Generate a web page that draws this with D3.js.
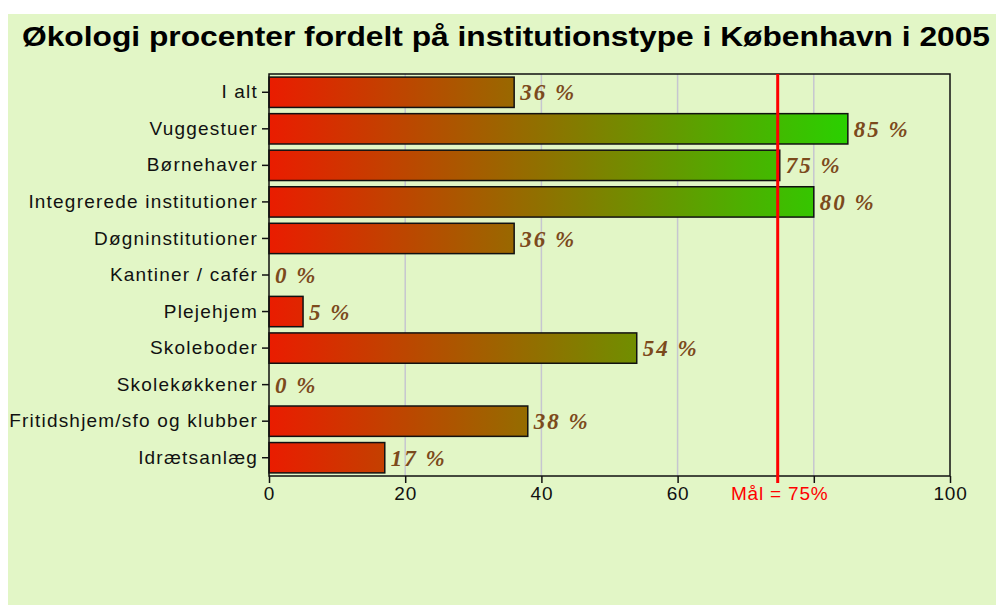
<!DOCTYPE html>
<html>
<head>
<meta charset="utf-8">
<script src="https://cdn.jsdelivr.net/npm/d3@7"></script>
<style>
  body { margin: 0; background: #fff; }
  svg { display: block; }
</style>
</head>
<body>
<svg id="chart" width="996" height="606"></svg>
<script>
const categories = [
  "I alt", "Vuggestuer", "Børnehaver", "Integrerede institutioner",
  "Døgninstitutioner", "Kantiner / cafér", "Plejehjem", "Skoleboder",
  "Skolekøkkener", "Fritidshjem/sfo og klubber", "Idrætsanlæg"
];
const values = [36, 85, 75, 80, 36, 0, 5, 54, 0, 38, 17];
const valueLabels = ["36 %", "85 %", "75 %", "80 %", "36 %", "0 %", "5 %", "54 %", "0 %", "38 %", "17 %"];
const xTicks = [0, 20, 40, 60, 80, 100];
const xTickLabels = ["0", "20", "40", "60", "", "100"];
const grid = [20, 40, 60, 80];
const goal = 74.7;
const goalLabel = "Mål = 75%";
const title = "Økologi procenter fordelt på institutionstype i København i 2005";

const svg = d3.select("#chart");
const margin = { top: 74, left: 269, right: 46, bottom: 130 };
const W = 996, H = 606;
const sans = "Liberation Sans, Arial, sans-serif";

// background panel
svg.append("rect").attr("x", 8).attr("y", 14).attr("width", W - 8).attr("height", 591)
  .attr("fill", "#e2f6c6");

svg.append("text").attr("x", 506).attr("y", 46).attr("text-anchor", "middle")
  .attr("textLength", 968).attr("lengthAdjust", "spacingAndGlyphs")
  .style("font-family", sans)
  .style("font-weight", "bold").style("font-size", "28px").attr("fill", "#000")
  .text(title);

const x = d3.scaleLinear().domain([0, 100]).range([margin.left, W - margin.right]);
const y = d3.scaleBand().domain(categories).range([margin.top, H - margin.bottom])
  .paddingInner(0.17).paddingOuter(0.085);

const defs = svg.append("defs");
const grad = defs.append("linearGradient").attr("id", "barGrad")
  .attr("gradientUnits", "userSpaceOnUse")
  .attr("x1", x(0)).attr("x2", x(100)).attr("y1", 0).attr("y2", 0);
grad.append("stop").attr("offset", "0%").attr("stop-color", "#ea1c00");
grad.append("stop").attr("offset", "100%").attr("stop-color", "#08f000");

// gridlines
svg.append("g").selectAll("line").data(grid).join("line")
  .attr("x1", d => x(d)).attr("x2", d => x(d))
  .attr("y1", margin.top).attr("y2", H - margin.bottom)
  .attr("stroke", "#c6c6d0").attr("stroke-width", 1.5);

// bars
svg.append("g").selectAll("rect").data(values).join("rect")
  .attr("x", x(0))
  .attr("y", (d, i) => y(categories[i]))
  .attr("width", d => x(d) - x(0))
  .attr("height", y.bandwidth())
  .attr("fill", "url(#barGrad)")
  .attr("stroke", d => d > 0 ? "#111" : "none")
  .attr("stroke-width", 1.5);

// value labels
svg.append("g").selectAll("text").data(values).join("text")
  .attr("x", d => x(d) + 6)
  .attr("y", (d, i) => y(categories[i]) + y.bandwidth() / 2)
  .attr("dy", "0.35em")
  .style("font-family", "Liberation Serif, Times New Roman, serif")
  .style("font-weight", "bold").style("font-style", "italic")
  .style("font-size", "23px").style("letter-spacing", "2px")
  .attr("fill", "#7c4a1c")
  .text((d, i) => valueLabels[i]);

// plot frame
svg.append("rect").attr("x", x(0)).attr("y", margin.top)
  .attr("width", x(100) - x(0)).attr("height", H - margin.bottom - margin.top)
  .attr("fill", "none").attr("stroke", "#111").attr("stroke-width", 1.5);

// x axis
const xAxis = svg.append("g").attr("transform", `translate(0,${H - margin.bottom})`)
  .call(d3.axisBottom(x).tickValues(xTicks).tickSize(7).tickPadding(4)
    .tickFormat((d, i) => xTickLabels[i]));
xAxis.select(".domain").remove();
xAxis.selectAll("line").attr("stroke", "#111").attr("stroke-width", 1.5);
xAxis.selectAll("text").style("font-family", sans)
  .style("font-size", "19px").style("letter-spacing", "0.8px").attr("fill", "#111");

// y axis
const yAxis = svg.append("g").attr("transform", `translate(${x(0)},0)`)
  .call(d3.axisLeft(y).tickSize(7).tickPadding(4));
yAxis.select(".domain").remove();
yAxis.selectAll("line").attr("stroke", "#111").attr("stroke-width", 1.5);
yAxis.selectAll("text").style("font-family", sans)
  .style("font-size", "19px").style("letter-spacing", "1.2px").attr("fill", "#111");

// goal line
svg.append("line").attr("x1", x(goal)).attr("x2", x(goal))
  .attr("y1", margin.top).attr("y2", H - margin.bottom + 7)
  .attr("stroke", "#ff0000").attr("stroke-width", 3);
svg.append("text").attr("x", x(goal) + 2).attr("y", H - margin.bottom + 11)
  .attr("dy", "0.71em").attr("text-anchor", "middle")
  .style("font-family", sans).style("letter-spacing", "0.8px")
  .style("font-size", "19px").attr("fill", "#ff0000")
  .text(goalLabel);
</script>
</body>
</html>
